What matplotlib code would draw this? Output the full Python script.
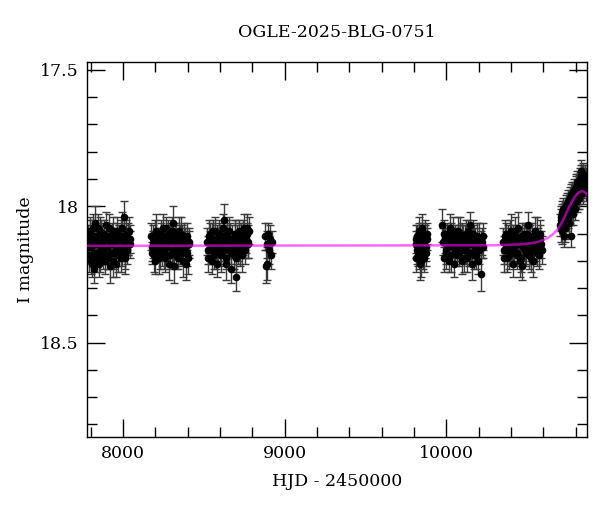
import matplotlib
matplotlib.use("Agg")
import matplotlib.pyplot as plt
from matplotlib.ticker import MultipleLocator

plt.rcParams['font.family'] = ['DejaVu Serif']

# ---- data (HJD-2450000, I mag, error) ----
t1 = [7786, 7792, 7798, 7803, 7809, 7815, 7821, 7828, 7834, 7840, 7847, 7853, 7860, 7866, 7873, 7880,
      7887, 7894, 7901, 7908, 7915, 7922, 7929, 7936, 7943, 7950, 7957, 7964, 7971, 7978, 7985, 7992,
      7999, 8006, 8013, 8020, 8028, 8036, 8043]
m1 = [18.12, 18.18, 18.09, 18.15, 18.21, 18.11, 18.23, 18.06, 18.14, 18.17, 18.08, 18.13, 18.19, 18.10,
      18.16, 18.12, 18.20, 18.07, 18.15, 18.18, 18.11, 18.22, 18.14, 18.09, 18.17, 18.13, 18.21, 18.10,
      18.16, 18.12, 18.19, 18.08, 18.15, 18.04, 18.18, 18.11, 18.14, 18.09, 18.12]
e1 = [0.05, 0.06, 0.05, 0.04, 0.05, 0.06, 0.05, 0.06, 0.05, 0.04, 0.05, 0.06, 0.05, 0.05, 0.04, 0.06,
      0.05, 0.05, 0.06, 0.05, 0.04, 0.06, 0.05, 0.05, 0.06, 0.05, 0.05, 0.04, 0.06, 0.05, 0.05, 0.06,
      0.05, 0.06, 0.05, 0.05, 0.04, 0.05, 0.05]
t1b = [7789, 7795, 7801, 7806, 7812, 7818, 7825, 7831, 7837, 7844, 7850, 7857, 7863, 7870, 7877, 7884,
       7891, 7898, 7905, 7912, 7919, 7926, 7933, 7940, 7947, 7954, 7961, 7968, 7975, 7982, 7989, 7996,
       8003, 8010, 8017, 8024, 8032, 8040]
m1b = [18.15, 18.10, 18.20, 18.13, 18.08, 18.17, 18.12, 18.19, 18.11, 18.14, 18.21, 18.09, 18.16, 18.13,
       18.18, 18.10, 18.15, 18.12, 18.19, 18.08, 18.14, 18.17, 18.11, 18.20, 18.13, 18.16, 18.09, 18.18,
       18.12, 18.15, 18.11, 18.17, 18.13, 18.19, 18.10, 18.16, 18.12, 18.14]
e1b = [0.06, 0.05, 0.05, 0.06, 0.05, 0.04, 0.06, 0.05, 0.05, 0.06, 0.05, 0.05, 0.04, 0.06, 0.05, 0.05,
       0.06, 0.05, 0.04, 0.05, 0.06, 0.05, 0.05, 0.06, 0.05, 0.04, 0.05, 0.06, 0.05, 0.05, 0.06, 0.05,
       0.05, 0.06, 0.05, 0.05, 0.06, 0.05]

t2 = [8172, 8180, 8188, 8196, 8204, 8212, 8220, 8228, 8236, 8244, 8252, 8260, 8268, 8276, 8284, 8292,
      8300, 8306, 8314, 8322, 8330, 8338, 8346, 8354, 8362, 8370, 8378, 8386, 8394, 8402, 8410]
m2 = [18.11, 18.17, 18.14, 18.20, 18.09, 18.15, 18.12, 18.18, 18.10, 18.16, 18.13, 18.19, 18.08, 18.14,
      18.21, 18.11, 18.17, 18.06, 18.13, 18.10, 18.18, 18.15, 18.09, 18.16, 18.12, 18.20, 18.11, 18.14,
      18.17, 18.19, 18.13]
e2 = [0.05, 0.04, 0.05, 0.05, 0.06, 0.05, 0.04, 0.05, 0.05, 0.06, 0.05, 0.05, 0.04, 0.05, 0.06, 0.05,
      0.05, 0.06, 0.05, 0.04, 0.05, 0.06, 0.05, 0.05, 0.05, 0.06, 0.05, 0.06, 0.05, 0.06, 0.05]
t2b = [8176, 8184, 8192, 8200, 8208, 8216, 8224, 8232, 8240, 8248, 8256, 8264, 8272, 8280, 8288, 8296,
       8303, 8310, 8318, 8326, 8334, 8342, 8350, 8358, 8366, 8374, 8382, 8390, 8398, 8406]
m2b = [18.15, 18.12, 18.18, 18.10, 18.16, 18.13, 18.19, 18.11, 18.14, 18.08, 18.17, 18.12, 18.15, 18.10,
       18.18, 18.13, 18.09, 18.16, 18.22, 18.11, 18.14, 18.19, 18.12, 18.10, 18.17, 18.13, 18.15, 18.21,
       18.11, 18.14]
e2b = [0.05, 0.05, 0.06, 0.05, 0.04, 0.05, 0.06, 0.05, 0.05, 0.05, 0.06, 0.05, 0.04, 0.05, 0.05, 0.06,
       0.05, 0.05, 0.06, 0.05, 0.05, 0.04, 0.05, 0.06, 0.05, 0.05, 0.05, 0.06, 0.05, 0.05]

t3 = [8520, 8528, 8536, 8544, 8552, 8560, 8568, 8576, 8584, 8592, 8600, 8608, 8616, 8622, 8630, 8638,
      8646, 8654, 8662, 8670, 8678, 8686, 8694, 8700, 8708, 8716, 8724, 8732, 8740, 8748, 8756, 8764,
      8772, 8780]
m3 = [18.13, 18.19, 18.10, 18.16, 18.12, 18.18, 18.09, 18.15, 18.21, 18.11, 18.14, 18.17, 18.08, 18.05,
      18.13, 18.19, 18.10, 18.16, 18.12, 18.23, 18.14, 18.18, 18.11, 18.26, 18.15, 18.09, 18.17, 18.12,
      18.13, 18.08, 18.16, 18.10, 18.14, 18.09]
e3 = [0.05, 0.05, 0.04, 0.05, 0.06, 0.05, 0.05, 0.04, 0.05, 0.05, 0.06, 0.05, 0.05, 0.06, 0.05, 0.04,
      0.05, 0.05, 0.06, 0.05, 0.05, 0.05, 0.06, 0.05, 0.05, 0.04, 0.05, 0.06, 0.05, 0.05, 0.05, 0.04,
      0.05, 0.05]
t3b = [8524, 8532, 8540, 8548, 8556, 8564, 8572, 8580, 8588, 8596, 8604, 8612, 8619, 8626, 8634, 8642,
       8650, 8658, 8666, 8674, 8682, 8690, 8697, 8704, 8712, 8720, 8728, 8736, 8744, 8752, 8760, 8768,
       8776]
m3b = [18.16, 18.11, 18.14, 18.20, 18.09, 18.13, 18.17, 18.12, 18.15, 18.10, 18.18, 18.13, 18.11, 18.16,
       18.21, 18.12, 18.14, 18.09, 18.17, 18.12, 18.15, 18.10, 18.19, 18.13, 18.16, 18.11, 18.14, 18.18,
       18.10, 18.15, 18.12, 18.08, 18.13]
e3b = [0.05, 0.06, 0.05, 0.05, 0.04, 0.05, 0.06, 0.05, 0.05, 0.05, 0.06, 0.05, 0.04, 0.05, 0.06, 0.05,
       0.05, 0.05, 0.06, 0.05, 0.04, 0.05, 0.05, 0.06, 0.05, 0.05, 0.05, 0.06, 0.05, 0.04, 0.05, 0.05,
       0.06]

t4 = [8880, 8884, 8888, 8892, 8898, 8904, 8910, 8916, 8922]
m4 = [18.11, 18.22, 18.14, 18.21, 18.10, 18.16, 18.12, 18.18, 18.13]
e4 = [0.05, 0.06, 0.05, 0.06, 0.04, 0.05, 0.05, 0.05, 0.04]

t5 = [9810, 9815, 9820, 9825, 9830, 9835, 9840, 9845, 9850, 9855, 9860, 9865, 9870, 9876, 9882]
m5 = [18.14, 18.19, 18.11, 18.17, 18.09, 18.21, 18.13, 18.16, 18.08, 18.18, 18.12, 18.15, 18.10, 18.17, 18.12]
e5 = [0.05, 0.05, 0.04, 0.05, 0.05, 0.06, 0.05, 0.04, 0.05, 0.05, 0.05, 0.04, 0.05, 0.05, 0.04]
t5b = [9812, 9818, 9822, 9828, 9833, 9838, 9843, 9848, 9853, 9858, 9863, 9868, 9873, 9879]
m5b = [18.12, 18.16, 18.14, 18.10, 18.18, 18.13, 18.20, 18.11, 18.15, 18.13, 18.19, 18.12, 18.15, 18.10]
e5b = [0.05, 0.05, 0.05, 0.04, 0.05, 0.05, 0.06, 0.05, 0.05, 0.04, 0.05, 0.05, 0.05, 0.04]

t6 = [9975, 9983, 9991, 9999, 10007, 10015, 10023, 10031, 10039, 10047, 10055, 10063, 10071, 10079,
      10087, 10095, 10103, 10111, 10119, 10127, 10135, 10144, 10152, 10160, 10168, 10176, 10184, 10192,
      10200, 10212, 10220, 10228]
m6 = [18.07, 18.19, 18.12, 18.16, 18.10, 18.14, 18.08, 18.18, 18.13, 18.21, 18.11, 18.15, 18.09, 18.17,
      18.13, 18.20, 18.12, 18.16, 18.10, 18.19, 18.14, 18.07, 18.17, 18.21, 18.12, 18.15, 18.18, 18.11,
      18.16, 18.25, 18.13, 18.15]
e6 = [0.06, 0.05, 0.05, 0.05, 0.04, 0.05, 0.05, 0.06, 0.05, 0.05, 0.04, 0.05, 0.05, 0.05, 0.06, 0.05,
      0.05, 0.04, 0.05, 0.05, 0.05, 0.05, 0.05, 0.06, 0.05, 0.04, 0.05, 0.05, 0.05, 0.06, 0.05, 0.04]
t6b = [9979, 9987, 9995, 10003, 10011, 10019, 10027, 10035, 10043, 10051, 10059, 10067, 10075, 10083,
       10091, 10099, 10107, 10115, 10123, 10131, 10139, 10148, 10156, 10164, 10172, 10180, 10188, 10196,
       10204, 10216, 10224]
m6b = [18.13, 18.10, 18.17, 18.12, 18.15, 18.20, 18.11, 18.14, 18.09, 18.16, 18.13, 18.18, 18.12, 18.10,
       18.15, 18.11, 18.19, 18.13, 18.16, 18.09, 18.17, 18.12, 18.14, 18.10, 18.18, 18.13, 18.15, 18.20,
       18.12, 18.14, 18.11]
e6b = [0.05, 0.05, 0.06, 0.05, 0.05, 0.04, 0.05, 0.06, 0.05, 0.05, 0.05, 0.04, 0.05, 0.06, 0.05, 0.05,
       0.05, 0.06, 0.05, 0.04, 0.05, 0.05, 0.06, 0.05, 0.05, 0.05, 0.04, 0.05, 0.06, 0.05, 0.05]

t7 = [10350, 10358, 10366, 10374, 10382, 10390, 10398, 10406, 10414, 10422, 10430, 10438, 10446, 10454,
      10462, 10470, 10478, 10486, 10494, 10502, 10510, 10518, 10526, 10534, 10542, 10550, 10558, 10566,
      10574, 10582, 10590]
m7 = [18.13, 18.19, 18.10, 18.16, 18.12, 18.18, 18.09, 18.15, 18.21, 18.11, 18.14, 18.17, 18.08, 18.13,
      18.19, 18.22, 18.10, 18.16, 18.12, 18.07, 18.18, 18.11, 18.15, 18.20, 18.13, 18.09, 18.17, 18.12,
      18.14, 18.10, 18.16]
e7 = [0.05, 0.05, 0.04, 0.05, 0.05, 0.05, 0.06, 0.05, 0.05, 0.04, 0.05, 0.05, 0.06, 0.05, 0.05, 0.05,
      0.04, 0.05, 0.05, 0.05, 0.05, 0.04, 0.05, 0.06, 0.05, 0.05, 0.05, 0.04, 0.05, 0.05, 0.05]
t7b = [10354, 10362, 10370, 10378, 10386, 10394, 10402, 10410, 10418, 10426, 10434, 10442, 10450, 10458,
       10466, 10474, 10482, 10490, 10498, 10506, 10514, 10522, 10530, 10538, 10546, 10554, 10562, 10570,
       10578, 10586]
m7b = [18.16, 18.11, 18.14, 18.19, 18.12, 18.10, 18.17, 18.13, 18.15, 18.09, 18.18, 18.12, 18.14, 18.20,
       18.11, 18.15, 18.13, 18.17, 18.10, 18.14, 18.12, 18.19, 18.11, 18.16, 18.13, 18.15, 18.10, 18.18,
       18.12, 18.14]
e7b = [0.05, 0.06, 0.05, 0.05, 0.04, 0.05, 0.05, 0.06, 0.05, 0.05, 0.05, 0.04, 0.05, 0.06, 0.05, 0.05,
       0.05, 0.05, 0.04, 0.05, 0.06, 0.05, 0.05, 0.05, 0.04, 0.05, 0.06, 0.05, 0.05, 0.05]

t8 = [10706, 10710, 10714, 10718, 10722, 10726, 10730, 10734, 10738, 10742, 10746, 10750, 10754, 10758,
      10762, 10766, 10770, 10774, 10778, 10782, 10786, 10790, 10794, 10798, 10802, 10806, 10810, 10814,
      10818, 10822, 10826, 10830, 10834, 10838, 10842, 10846, 10850, 10854, 10858, 10862]
m8 = [18.07, 18.04, 18.09, 18.02, 18.06, 18.11, 18.03, 18.08, 18.00, 18.05, 17.99, 18.04, 18.01, 18.06,
      17.97, 18.02, 18.11, 17.98, 17.95, 18.03, 17.99, 17.94, 18.01, 17.96, 17.93, 17.98, 17.91, 17.95,
      17.92, 17.97, 17.90, 17.94, 17.87, 17.92, 17.89, 17.95, 17.90, 17.93, 17.91, 17.94]
e8 = [0.04, 0.04, 0.05, 0.04, 0.04, 0.04, 0.04, 0.05, 0.04, 0.04, 0.04, 0.04, 0.04, 0.04, 0.04, 0.04,
      0.04, 0.04, 0.04, 0.04, 0.04, 0.04, 0.04, 0.04, 0.04, 0.04, 0.04, 0.04, 0.04, 0.04, 0.04, 0.04,
      0.04, 0.04, 0.04, 0.04, 0.04, 0.04, 0.04, 0.04]
t8b = [10708, 10712, 10716, 10720, 10724, 10728, 10732, 10736, 10740, 10744, 10748, 10752, 10756, 10760,
       10764, 10768, 10772, 10776, 10780, 10784, 10788, 10792, 10796, 10800, 10804, 10808, 10812, 10816,
       10820, 10824, 10828, 10832, 10836, 10840, 10844, 10848, 10852, 10856, 10860, 10864]
m8b = [18.05, 18.08, 18.03, 18.07, 18.01, 18.04, 18.08, 18.02, 18.05, 18.01, 18.03, 17.98, 18.02, 17.99,
       18.03, 17.96, 18.00, 17.97, 18.01, 17.96, 17.98, 17.95, 17.97, 17.93, 17.96, 17.94, 17.97, 17.92,
       17.95, 17.91, 17.93, 17.89, 17.92, 17.90, 17.93, 17.88, 17.91, 17.89, 17.92, 17.90]
e8b = [0.04, 0.05, 0.04, 0.04, 0.04, 0.05, 0.04, 0.04, 0.04, 0.04, 0.05, 0.04, 0.04, 0.04, 0.04, 0.04,
       0.05, 0.04, 0.04, 0.04, 0.04, 0.04, 0.04, 0.05, 0.04, 0.04, 0.04, 0.04, 0.04, 0.04, 0.05, 0.04,
       0.04, 0.04, 0.04, 0.04, 0.04, 0.04, 0.04, 0.04]

# model curve
model_t = [7777, 10300, 10450, 10500, 10550, 10600, 10630, 10660, 10680, 10700, 10720, 10740, 10760,
           10780, 10800, 10820, 10840, 10855, 10870]
model_m = [18.145, 18.143, 18.140, 18.137, 18.133, 18.124, 18.115, 18.102, 18.090, 18.074, 18.052, 18.027,
           18.002, 17.979, 17.961, 17.949, 17.944, 17.948, 17.957]

title = "OGLE-2025-BLG-0751"
xlabel = "HJD - 2450000"
ylabel = "I magnitude"

t = t1 + t1b + t2 + t2b + t3 + t3b + t4 + t5 + t5b + t6 + t6b + t7 + t7b + t8 + t8b
m = m1 + m1b + m2 + m2b + m3 + m3b + m4 + m5 + m5b + m6 + m6b + m7 + m7b + m8 + m8b
e = e1 + e1b + e2 + e2b + e3 + e3b + e4 + e5 + e5b + e6 + e6b + e7 + e7b + e8 + e8b

fig = plt.figure(figsize=(6.0, 5.12), dpi=100)
ax = fig.add_axes([87/600, 1 - 436.7/512, 500/600, (436.7 - 62.3)/512])

ax.errorbar(t, m, yerr=e, fmt='o', color='black', ms=4.5, ecolor='#3a3a3a',
            elinewidth=1.0, capsize=3, capthick=1.0, zorder=2)
ax.plot(model_t, model_m, color='#ff00ff', lw=1.8, alpha=0.6, zorder=3)

ax.set_xlim(7777, 10870)
ax.set_ylim(18.845, 17.472)

ax.xaxis.set_major_locator(MultipleLocator(1000))
ax.xaxis.set_minor_locator(MultipleLocator(200))
ax.yaxis.set_major_locator(MultipleLocator(0.5))
ax.yaxis.set_minor_locator(MultipleLocator(0.1))
ax.yaxis.set_major_formatter(plt.FuncFormatter(lambda v, p: f"{v:g}"))

ax.tick_params(which='both', direction='in', top=True, right=True, width=1.0, labelsize=12.5)
ax.tick_params(which='major', length=13)
ax.tick_params(which='minor', length=7)
ax.tick_params(axis='x', pad=6)
ax.tick_params(axis='y', pad=6)
for s in ax.spines.values():
    s.set_linewidth(1.0)

ax.set_title(title, fontsize=12.5, pad=18)
ax.set_xlabel(xlabel, fontsize=12.5, labelpad=8)
ax.set_ylabel(ylabel, fontsize=12.5, labelpad=4)

fig.savefig("out.png", dpi=100)
